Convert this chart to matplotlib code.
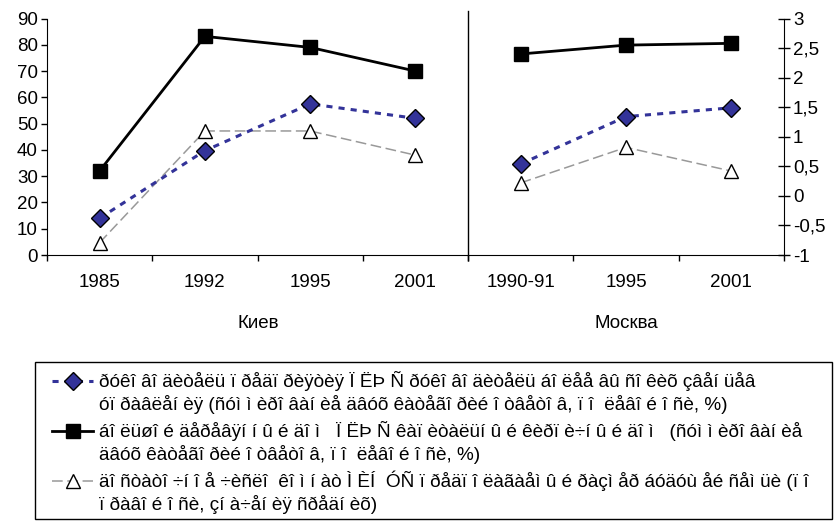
import matplotlib
matplotlib.use('Agg')
import matplotlib.pyplot as plt
from matplotlib.lines import Line2D

plt.rcParams['font.family'] = ['Liberation Sans', 'DejaVu Sans']

# Киев (left axis)
kiev_years = ['1985', '1992', '1995', '2001']
kiev_boss = [14, 39.7, 57.5, 52]
kiev_house = [32, 83.2, 79, 70]
kiev_rooms = [4.7, 47.2, 47.2, 38]

# Москва (right axis)
msk_years = ['1990-91', '1995', '2001']
msk_boss = [0.54, 1.34, 1.49]
msk_house = [2.4, 2.55, 2.58]
msk_rooms = [0.22, 0.82, 0.42]

# legend text, as it appears (each entry wraps on two lines)
labels = [
    ['ðóêî âî äèòåëü ï ðåäï ðèÿòèÿ Ï ËÞ Ñ ðóêî âî äèòåëü áî ëåå âû ñî êèõ çâåí üåâ',
     'óï ðàâëåí èÿ (ñóì ì èðî âàí èå äâóõ êàòåãî ðèé î òâåòî â, ï î  ëåâî é î ñè, %)'],
    ['áî ëüøî é äåðåâÿí í û é äî ì   Ï ËÞ Ñ êàï èòàëüí û é êèðï è÷í û é äî ì   (ñóì ì èðî âàí èå',
     'äâóõ êàòåãî ðèé î òâåòî â, ï î  ëåâî é î ñè, %)'],
    ['äî ñòàòî ÷í î å ÷èñëî  êî ì í àò Ì ÈÍ  ÓÑ ï ðåäï î ëàãàåì û é ðàçì åð áóäóù åé ñåì üè (ï î',
     'ï ðàâî é î ñè, çí à÷åí èÿ ñðåäí èõ)'],
]

W, H = 834, 526
fig = plt.figure(figsize=(W / 100, H / 100), dpi=100)

y_top = 1 - 18.5 / H
y_bot = 1 - 255 / H
ax1 = fig.add_axes([47 / W, y_bot, (468 - 47) / W, y_top - y_bot])
ax2 = fig.add_axes([468 / W, y_bot, (784 - 468) / W, y_top - y_bot])

boss_style = dict(color='#333399', lw=2.2, dashes=(2, 2), marker='D', markersize=9,
                  markerfacecolor='#333399', markeredgecolor='black', markeredgewidth=1)
house_style = dict(color='black', lw=2, marker='s', markersize=10.5,
                   markerfacecolor='black', markeredgecolor='black')
rooms_style = dict(color='#999999', lw=1.1, dashes=(7, 3), marker='^', markersize=10,
                   markerfacecolor='white', markeredgecolor='black', markeredgewidth=1)

for ax, years, boss, house, rooms in [(ax1, kiev_years, kiev_boss, kiev_house, kiev_rooms),
                                      (ax2, msk_years, msk_boss, msk_house, msk_rooms)]:
    x = list(range(len(years)))
    ax.plot(x, rooms, **rooms_style, zorder=3)
    ax.plot(x, boss, **boss_style, zorder=4)
    ax.plot(x, house, **house_style, zorder=5)
    ax.set_xlim(-0.5, len(years) - 0.5)
    ax.set_xticks([i - 0.5 for i in range(len(years) + 1)])
    ax.set_xticklabels([])
    ax.set_xticks(x, minor=True)
    ax.set_xticklabels(years, minor=True)
    ax.tick_params(axis='x', which='major', direction='out', length=4, width=1, color='black')
    ax.tick_params(axis='x', which='minor', length=0, labelsize=13.5, pad=14)
    ax.spines['top'].set_visible(False)
    ax.set_facecolor('none')

ax1.set_ylim(0, 90)
ax1.set_yticks(range(0, 91, 10))
ax1.tick_params(axis='y', direction='out', length=4.5, width=1, labelsize=13.5, pad=2)
ax1.spines['right'].set_visible(False)

ax2.set_ylim(-1, 3)
ax2.set_yticks([-1, -0.5, 0, 0.5, 1, 1.5, 2, 2.5, 3])
ax2.set_yticklabels(['-1', '-0,5', '0', '0,5', '1', '1,5', '2', '2,5', '3'])
ax2.yaxis.tick_right()
ax2.tick_params(axis='y', direction='inout', length=9, width=1, labelsize=13.5, pad=2)
ax2.spines['left'].set_visible(False)

# divider between the two cities
fig.add_artist(Line2D([468 / W, 468 / W], [1 - 11 / H, 1 - 254.5 / H], color='black', lw=1))

fig.text(258 / W, 1 - 323 / H, 'Киев', ha='center', va='center', fontsize=13.5)
fig.text(626 / W, 1 - 323 / H, 'Москва', ha='center', va='center', fontsize=13.5)

# legend box
box_l, box_r, box_t, box_b = 35, 832, 362, 519
fig.add_artist(plt.Rectangle((box_l / W, 1 - box_b / H), (box_r - box_l) / W, (box_b - box_t) / H,
                             fill=False, edgecolor='black', lw=1, transform=fig.transFigure))
styles = [boss_style, house_style, rooms_style]
rows = [381, 431, 481]
for st, lab, ry in zip(styles, labels, rows):
    yy = 1 - ry / H
    line_only = {k: v for k, v in st.items() if k != 'marker'}
    fig.add_artist(Line2D([52 / W, 93 / W], [yy, yy], **line_only))
    fig.add_artist(Line2D([72.5 / W], [yy], **st))
    for j, part in enumerate(lab):
        fig.text(99 / W, 1 - (ry + 24 * j) / H, part, ha='left', va='center', fontsize=13.7)

fig.savefig('out.png', dpi=100)
